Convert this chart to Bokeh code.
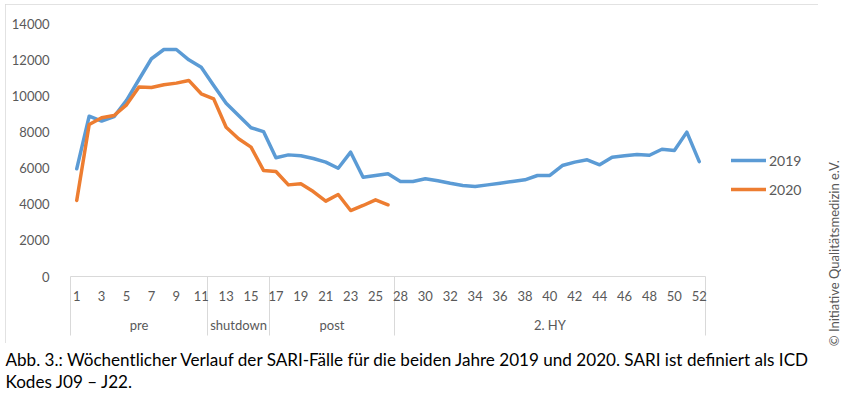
import math
from bokeh.plotting import figure
from bokeh.layouts import column, row
from bokeh.models import (Range1d, LinearAxis, FixedTicker, Legend, LegendItem, Label, Spacer)
from bokeh.embed import file_html
from bokeh.resources import INLINE

# ---- data ----
weeks = list(range(1, 27)) + list(range(28, 53))
sari_2019 = [5960, 8870, 8600, 8850, 9750, 10900, 12050, 12560, 12560, 11990,
             11580, 10570, 9590, 8910, 8230, 8020, 6570, 6730, 6680, 6530,
             6330, 5990, 6880, 5490, 5590, 5680,
             5260, 5260, 5410, 5300, 5160, 5040, 4980, 5070, 5160, 5260,
             5350, 5590, 5590, 6140, 6330, 6460, 6180, 6600, 6680, 6750,
             6710, 7040, 6970, 7990, 6360]
sari_2020 = [4210, 8410, 8780, 8910, 9500, 10480, 10460, 10610, 10700, 10850,
             10110, 9830, 8260, 7620, 7160, 5870, 5810, 5070, 5130, 4700,
             4170, 4540, 3650, 3930, 4240, 3970]
groups = ["pre", "shutdown", "post", "2. HY"]
group_sizes = [11, 5, 10, 25]
y_ticks = [0, 2000, 4000, 6000, 8000, 10000, 12000, 14000]
series_labels = ["2019", "2020"]
caption_lines = ["Abb. 3.: Wöchentlicher Verlauf der SARI-Fälle für die beiden Jahre 2019 und 2020. SARI ist definiert als ICD",
                 "Kodes J09 – J22."]
copyright_text = "© Initiative  Qualitätsmedizin e.V."

# ---- derived positions ----
n = len(weeks)
x_pos = list(range(1, n + 1))
label_pos = x_pos[::2]
label_over = {p_: str(w) for p_, w in zip(label_pos, weeks[::2])}
sep_pos = [0.5]
for s in group_sizes:
    sep_pos.append(sep_pos[-1] + s)
group_centers = [(a + b) / 2 for a, b in zip(sep_pos[:-1], sep_pos[1:])]
group_over = {c: g for c, g in zip(group_centers, groups)}

FONT = "Lato"
GREY = "#595959"
LINE = "#d9d9d9"
BLUE = "#5B9BD5"
ORANGE = "#ED7D31"

# layout geometry (pixels)
W, H = 813, 339
ML, MR, MT, MB = 65, 6, 19, 67
DATA_W = 635                      # width of the category area
FRAME_W = W - ML - MR
x_end = 0.5 + n * FRAME_W / DATA_W

# ---- main chart ----
p = figure(width=W, height=H, output_backend="svg", toolbar_location=None,
           x_range=Range1d(0.5, x_end), y_range=Range1d(0, 14000),
           x_axis_type=None, y_axis_type=None,
           min_border_left=ML, min_border_right=MR, min_border_top=MT,
           min_border_bottom=MB)
p.outline_line_color = None
p.background_fill_color = "white"
p.border_fill_color = "white"
p.styles = {"outline": "1px solid #d9d9d9", "outline-offset": "-1px"}

yaxis = LinearAxis(ticker=FixedTicker(ticks=y_ticks), axis_line_color=None,
                   major_tick_line_color=None, minor_tick_line_color=None,
                   major_label_standoff=15, major_label_text_font=FONT,
                   major_label_text_font_size="13px", major_label_text_color=GREY)
p.add_layout(yaxis, "left")

xaxis1 = LinearAxis(ticker=FixedTicker(ticks=label_pos, minor_ticks=sep_pos),
                    bounds=(0.5, n + 0.5),
                    major_label_overrides=label_over,
                    axis_line_color=LINE, axis_line_width=1,
                    major_tick_line_color=None, major_tick_in=0, major_tick_out=0,
                    minor_tick_in=0, minor_tick_out=59, minor_tick_line_color=LINE,
                    major_label_standoff=-45, major_label_text_font=FONT,
                    major_label_text_font_size="13px", major_label_text_color=GREY)
p.add_layout(xaxis1, "below")

xaxis2 = LinearAxis(ticker=FixedTicker(ticks=group_centers, minor_ticks=[]),
                    bounds=(0.5, n + 0.5),
                    major_label_overrides=group_over,
                    axis_line_color=None, major_tick_line_color=None,
                    major_tick_in=0, major_tick_out=0, minor_tick_line_color=None,
                    major_label_standoff=13, major_label_text_font=FONT,
                    major_label_text_font_size="13px", major_label_text_color=GREY)
p.add_layout(xaxis2, "below")

r19 = p.line(x_pos, sari_2019, line_color=BLUE, line_width=3.5,
             line_join="round", line_cap="round")
r20 = p.line(x_pos[:len(sari_2020)], sari_2020, line_color=ORANGE, line_width=3.5,
             line_join="round", line_cap="round")

legend = Legend(items=[LegendItem(label=series_labels[0], renderers=[r19]),
                       LegendItem(label=series_labels[1], renderers=[r20])],
                location=(661, 77), glyph_width=35, glyph_height=20,
                label_height=20, spacing=9, padding=0, margin=0,
                border_line_color=None, background_fill_alpha=0,
                label_text_font=FONT, label_text_font_size="14px",
                label_text_color=GREY, label_standoff=3)
p.add_layout(legend)

# ---- caption ----
pt = figure(width=818, height=48, output_backend="svg", toolbar_location=None,
            x_range=Range1d(0, 1), y_range=Range1d(0, 1),
            x_axis_type=None, y_axis_type=None, min_border=0)
pt.outline_line_color = None
for i, line in enumerate(caption_lines):
    pt.add_layout(Label(x=5, y=32 - 22 * i, x_units="screen", y_units="screen",
                        text=line, text_align="left", text_baseline="middle",
                        text_font=FONT, text_font_size="17.1px", text_color="black"))

# ---- copyright strip (full height, to the right) ----
PC_H = 4 + H + 48
pc = figure(width=23, height=PC_H, output_backend="svg", toolbar_location=None,
            x_range=Range1d(0, 1), y_range=Range1d(0, 1),
            x_axis_type=None, y_axis_type=None, min_border=0)
pc.outline_line_color = None
pc.add_layout(Label(x=15.5, y=PC_H - 251, x_units="screen", y_units="screen",
                    text=copyright_text, angle=math.pi / 2, text_align="center",
                    text_baseline="middle", text_font=FONT, text_font_size="13px",
                    text_color=GREY))

left_col = column(Spacer(width=818, height=4),
                  row(Spacer(width=5, height=H), p),
                  pt)
layout = row(left_col, pc)
open("out.html", "w").write(file_html(layout, INLINE))
